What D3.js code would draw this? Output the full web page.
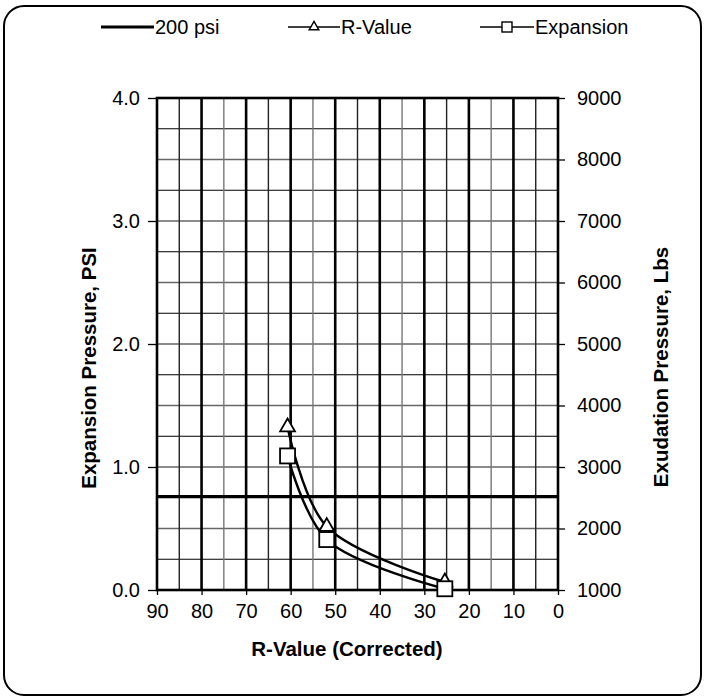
<!DOCTYPE html>
<html>
<head>
<meta charset="utf-8">
<script src="https://cdn.jsdelivr.net/npm/d3@7"></script>
<style>
  body { margin: 0; background: #fff; }
  svg text { font-family: Arial, "Liberation Sans", sans-serif; fill: #000; }
</style>
</head>
<body>
<svg id="chart" width="705" height="698"></svg>
<script>
// Data -------------------------------------------------------------
const xTicks = [90, 80, 70, 60, 50, 40, 30, 20, 10, 0];
const leftTicks = [0, 1, 2, 3, 4];
const rightTicks = [1000, 2000, 3000, 4000, 5000, 6000, 7000, 8000, 9000];

// 200 psi line (in left-axis units)
const psiLine = 0.76;

// R-Value series, plotted on the right axis (exudation pressure)
const rX = [60.7, 51.9, 25.4];
const rY = [3650, 2030, 1130];

// Expansion series, plotted on the left axis
const eX = [60.7, 51.9, 25.4];
const eY = [1.09, 0.41, 0.01];

// Layout -------------------------------------------------------------
const svg = d3.select("#chart");
const plot = { left: 157, right: 558, top: 98, bottom: 590 };

const x = d3.scaleLinear().domain([90, 0]).range([plot.left, plot.right]);
const yL = d3.scaleLinear().domain([0, 4]).range([plot.bottom, plot.top]);
const yR = d3.scaleLinear().domain([1000, 9000]).range([plot.bottom, plot.top]);

// outer rounded frame
svg.append("rect")
  .attr("x", 4).attr("y", 6)
  .attr("width", 697).attr("height", 689)
  .attr("rx", 20).attr("ry", 20)
  .attr("fill", "#fff").attr("stroke", "#000").attr("stroke-width", 2);

// grid -------------------------------------------------------------
const grid = svg.append("g");
// horizontal lines every 0.25
d3.range(0.25, 4, 0.25).forEach((v, i) => {
  grid.append("line")
    .attr("x1", plot.left).attr("x2", plot.right)
    .attr("y1", yL(v)).attr("y2", yL(v))
    .attr("stroke", i % 2 ? "#666" : "#000")
    .attr("stroke-width", i % 2 ? 1.6 : 1.2);
});
// vertical lines every 5
d3.range(5, 90, 5).forEach(v => {
  const major = v % 10 === 0;
  grid.append("line")
    .attr("x1", x(v)).attr("x2", x(v))
    .attr("y1", plot.top).attr("y2", plot.bottom)
    .attr("stroke", major ? "#000" : (v % 20 === 5 ? "#222" : "#777"))
    .attr("stroke-width", major ? 2.6 : 1.4);
});

// plot border
svg.append("rect")
  .attr("x", plot.left).attr("y", plot.top)
  .attr("width", plot.right - plot.left).attr("height", plot.bottom - plot.top)
  .attr("fill", "none").attr("stroke", "#000").attr("stroke-width", 2.6);

// axes -------------------------------------------------------------
const axisLeft = d3.axisLeft(yL).tickValues(leftTicks).tickFormat(d3.format(".1f"))
  .tickSize(9).tickPadding(8);
const axisRight = d3.axisRight(yR).tickValues(rightTicks).tickFormat(d3.format("d"))
  .tickSize(7).tickPadding(12);
const axisBottom = d3.axisBottom(x).tickValues(xTicks).tickFormat(d3.format("d"))
  .tickSize(5).tickPadding(9);

function styleAxis(g) {
  g.select(".domain").remove();
  g.selectAll(".tick line").attr("stroke", "#000").attr("stroke-width", 1.3);
  g.selectAll(".tick text").attr("font-size", 20)
    .attr("font-family", "Arial, 'Liberation Sans', sans-serif").attr("fill", "#000");
}
svg.append("g").attr("transform", `translate(${plot.left},0)`).call(axisLeft).call(styleAxis);
svg.append("g").attr("transform", `translate(${plot.right},0)`).call(axisRight).call(styleAxis);
svg.append("g").attr("transform", `translate(0,${plot.bottom})`).call(axisBottom).call(styleAxis);

// axis titles
svg.append("text")
  .attr("transform", `translate(96,368) rotate(-90)`)
  .attr("text-anchor", "middle").attr("font-size", 20.5).attr("font-weight", "bold")
  .text("Expansion Pressure, PSI");
svg.append("text")
  .attr("transform", `translate(668,367) rotate(-90)`)
  .attr("text-anchor", "middle").attr("font-size", 20.5).attr("font-weight", "bold")
  .text("Exudation Pressure, Lbs");
svg.append("text")
  .attr("x", 347).attr("y", 656)
  .attr("text-anchor", "middle").attr("font-size", 20.5).attr("font-weight", "bold")
  .text("R-Value (Corrected)");

// 200 psi line
svg.append("line")
  .attr("x1", plot.left).attr("x2", plot.right)
  .attr("y1", yL(psiLine)).attr("y2", yL(psiLine))
  .attr("stroke", "#000").attr("stroke-width", 3.2);

// series -------------------------------------------------------------
const rData = rX.map((v, i) => [x(v), yR(rY[i])]);
const eData = eX.map((v, i) => [x(v), yL(eY[i])]);
const line = d3.line().curve(d3.curveCatmullRom.alpha(0.5));

svg.append("path").attr("d", line(rData))
  .attr("fill", "none").attr("stroke", "#000").attr("stroke-width", 2.4);
svg.append("path").attr("d", line(eData))
  .attr("fill", "none").attr("stroke", "#000").attr("stroke-width", 2.4);

const tri = d3.symbol().type(d3.symbolTriangle).size(95);
svg.selectAll(".tri").data(rData).join("path")
  .attr("class", "tri")
  .attr("transform", d => `translate(${d[0]},${d[1]})`)
  .attr("d", tri)
  .attr("fill", "#fff").attr("stroke", "#000").attr("stroke-width", 1.8);

svg.selectAll(".sq").data(eData).join("rect")
  .attr("class", "sq")
  .attr("x", d => d[0] - 7.5).attr("y", d => d[1] - 7.5)
  .attr("width", 15).attr("height", 15)
  .attr("fill", "#fff").attr("stroke", "#000").attr("stroke-width", 1.8);

// legend -------------------------------------------------------------
const legY = 27;
const legend = svg.append("g");
const items = [
  { label: "200 psi", x1: 101, x2: 154, mark: null, w: 3.2 },
  { label: "R-Value", x1: 288, x2: 340, mark: "tri", w: 1.6 },
  { label: "Expansion", x1: 480, x2: 534, mark: "sq", w: 1.6 }
];
items.forEach(it => {
  legend.append("line")
    .attr("x1", it.x1).attr("x2", it.x2).attr("y1", legY).attr("y2", legY)
    .attr("stroke", "#000").attr("stroke-width", it.w);
  const cx = (it.x1 + it.x2) / 2;
  if (it.mark === "tri") {
    legend.append("path")
      .attr("transform", `translate(${cx},${legY})`)
      .attr("d", d3.symbol().type(d3.symbolTriangle).size(40))
      .attr("fill", "#fff").attr("stroke", "#000").attr("stroke-width", 1.4);
  } else if (it.mark === "sq") {
    legend.append("rect")
      .attr("x", cx - 5).attr("y", legY - 5).attr("width", 10).attr("height", 10)
      .attr("fill", "#fff").attr("stroke", "#000").attr("stroke-width", 1.4);
  }
  legend.append("text")
    .attr("x", it.x2 + 1).attr("y", legY + 7)
    .attr("font-size", 20)
    .text(it.label);
});
</script>
</body>
</html>
